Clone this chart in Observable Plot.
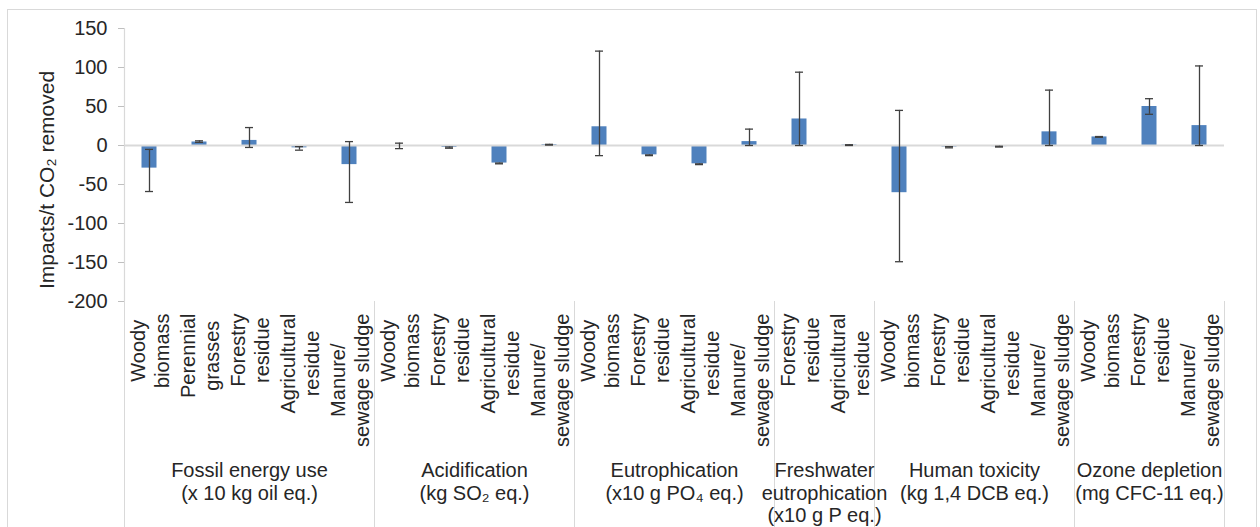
<!DOCTYPE html>
<html>
<head>
<meta charset="utf-8">
<script src="https://cdn.jsdelivr.net/npm/d3@7"></script>
<script src="https://cdn.jsdelivr.net/npm/@observablehq/plot@0.6"></script>
<style>
  html, body { margin: 0; padding: 0; background: #fff; overflow: hidden; }
  #frame { position: absolute; left: 7px; top: 9px; width: 1250px; height: 640px; border: 1px solid #d9d9d9; box-sizing: border-box; }
  #chart { position: absolute; left: 0; top: 0; }
</style>
</head>
<body>
<div id="frame"></div>
<div id="chart"></div>
<script>
// ---- Data ----
const groupLabels = [
  "Fossil energy use\n(x 10 kg oil eq.)",
  "Acidification\n(kg SO\u2082 eq.)",
  "Eutrophication\n(x10 g PO\u2084 eq.)",
  "Freshwater\neutrophication\n(x10 g P eq.)",
  "Human toxicity\n(kg 1,4 DCB eq.)",
  "Ozone depletion\n(mg CFC-11 eq.)"
];
const categories = [
  "Woody\nbiomass", "Perennial\ngrasses", "Forestry\nresidue", "Agricultural\nresidue", "Manure/\nsewage sludge",
  "Woody\nbiomass", "Forestry\nresidue", "Agricultural\nresidue", "Manure/\nsewage sludge",
  "Woody\nbiomass", "Forestry\nresidue", "Agricultural\nresidue", "Manure/\nsewage sludge",
  "Forestry\nresidue", "Agricultural\nresidue",
  "Woody\nbiomass", "Forestry\nresidue", "Agricultural\nresidue", "Manure/\nsewage sludge",
  "Woody\nbiomass", "Forestry\nresidue", "Manure/\nsewage sludge"
];
const categoryGroup = [0,0,0,0,0, 1,1,1,1, 2,2,2,2, 3,3, 4,4,4,4, 5,5,5];
const values = [-29, 4.5, 6.5, -3, -24.5,  -1, -2.5, -22.5, 1,  24, -12, -23.5, 5,  34, 0.5,  -60.5, -2, -1.5, 17.5,  11, 50, 25.5];
const errLow = [-59, 4, -2.5, -6, -73,  -4, -3.5, -23.5, 0.5,  -13, -13, -24.5, 0,  0, 0,  -149, -3, -2, 0,  10.5, 40, 0];
const errHigh = [-5, 6, 23, -1.5, 5,  3, -2, -22.5, 1.5,  121, -12, -23.5, 21,  94, 1,  45, -1.5, -1, 71,  11.5, 60, 102];
const yTicks = [-200, -150, -100, -50, 0, 50, 100, 150];
const yTitle = "Impacts/t CO\u2082 removed";

// ---- Layout ----
const W = 1260, H = 527, mTop = 28, mBottom = 226, mLeft = 124, mRight = 36;
const yMin = -200, yMax = 150;
const pxPerUnit = (H - mTop - mBottom) / (yMax - yMin);
const below = px => yMin - px / pxPerUnit; // data value px pixels under the frame

const FONT = "Liberation Sans, Arial, sans-serif";
const ctx = document.createElement("canvas").getContext("2d");
ctx.font = `20px ${FONT}`;
const maxLineWidth = s => Math.max(...s.split("\n").map(t => ctx.measureText(t).width));

const bars = categories.map((c, i) => ({
  i, label: c, group: categoryGroup[i], value: values[i], lo: errLow[i], hi: errHigh[i]
}));

// group extents
const groups = groupLabels.map((g, k) => {
  const idx = bars.filter(b => b.group === k).map(b => b.i);
  return { label: g, start: d3.min(idx), end: d3.max(idx) };
});
const separators = [-0.5, ...groups.map(g => g.end + 0.5)];

const ink = "#262626";
const grid = "#d9d9d9";

const chart = Plot.plot({
  width: W, height: H,
  marginTop: mTop, marginBottom: mBottom, marginLeft: mLeft, marginRight: mRight,
  style: { fontFamily: FONT, fontSize: "20px", background: "transparent", color: ink },
  x: { type: "linear", domain: [-0.5, categories.length - 0.5], axis: null },
  y: { domain: [yMin, yMax], label: null },
  marks: [
    // group separators in the category area
    Plot.ruleX(separators, { x: d => d, y1: yMin, y2: below(240), stroke: grid, strokeWidth: 1 }),
    // y axis line
    Plot.ruleX([-0.5], { x: d => d, y1: yMin, y2: yMax, stroke: grid, strokeWidth: 1.2 }),
    // y ticks
    Plot.axisY({ ticks: yTicks, tickSize: 6, tickFormat: () => "", stroke: "#bfbfbf", label: null }),
    Plot.axisY({ ticks: yTicks, tickSize: 0, tickPadding: 17, tickFormat: d => String(d), fill: ink, fontSize: 20, label: null }),
    // bars
    Plot.rect(bars, { x1: d => d.i - 0.15, x2: d => d.i + 0.15, y1: 0, y2: "value", fill: "#4f81bd" }),
    // zero line
    Plot.ruleY([0], { stroke: grid, strokeWidth: 2 }),
    // error bars
    Plot.ruleX(bars, { x: "i", y1: "lo", y2: "hi", stroke: "#404040", strokeWidth: 1.3 }),
    Plot.ruleY(bars, { y: "lo", x1: d => d.i - 0.08, x2: d => d.i + 0.08, stroke: "#404040", strokeWidth: 1.3 }),
    Plot.ruleY(bars, { y: "hi", x1: d => d.i - 0.08, x2: d => d.i + 0.08, stroke: "#404040", strokeWidth: 1.3 }),
    // category labels (rotated, two lines)
    Plot.text(bars, {
      x: "i", y: d => below(12 + maxLineWidth(d.label) / 2), text: "label",
      rotate: -90, textAnchor: "middle", lineAnchor: "middle", lineHeight: 1.2,
      fontSize: 20, fill: ink
    }),
    // group labels
    Plot.text(groups, {
      x: d => (d.start + d.end) / 2, y: below(160), text: "label",
      textAnchor: "middle", lineAnchor: "top", lineHeight: 1.12, fontSize: 20, fill: ink
    }),
    // y axis title
    Plot.text([yTitle], {
      frameAnchor: "left", dx: -77, dy: 15, rotate: -90, textAnchor: "middle",
      fontSize: 21, fill: ink
    })
  ]
});
document.getElementById("chart").appendChild(chart);
</script>
</body>
</html>
